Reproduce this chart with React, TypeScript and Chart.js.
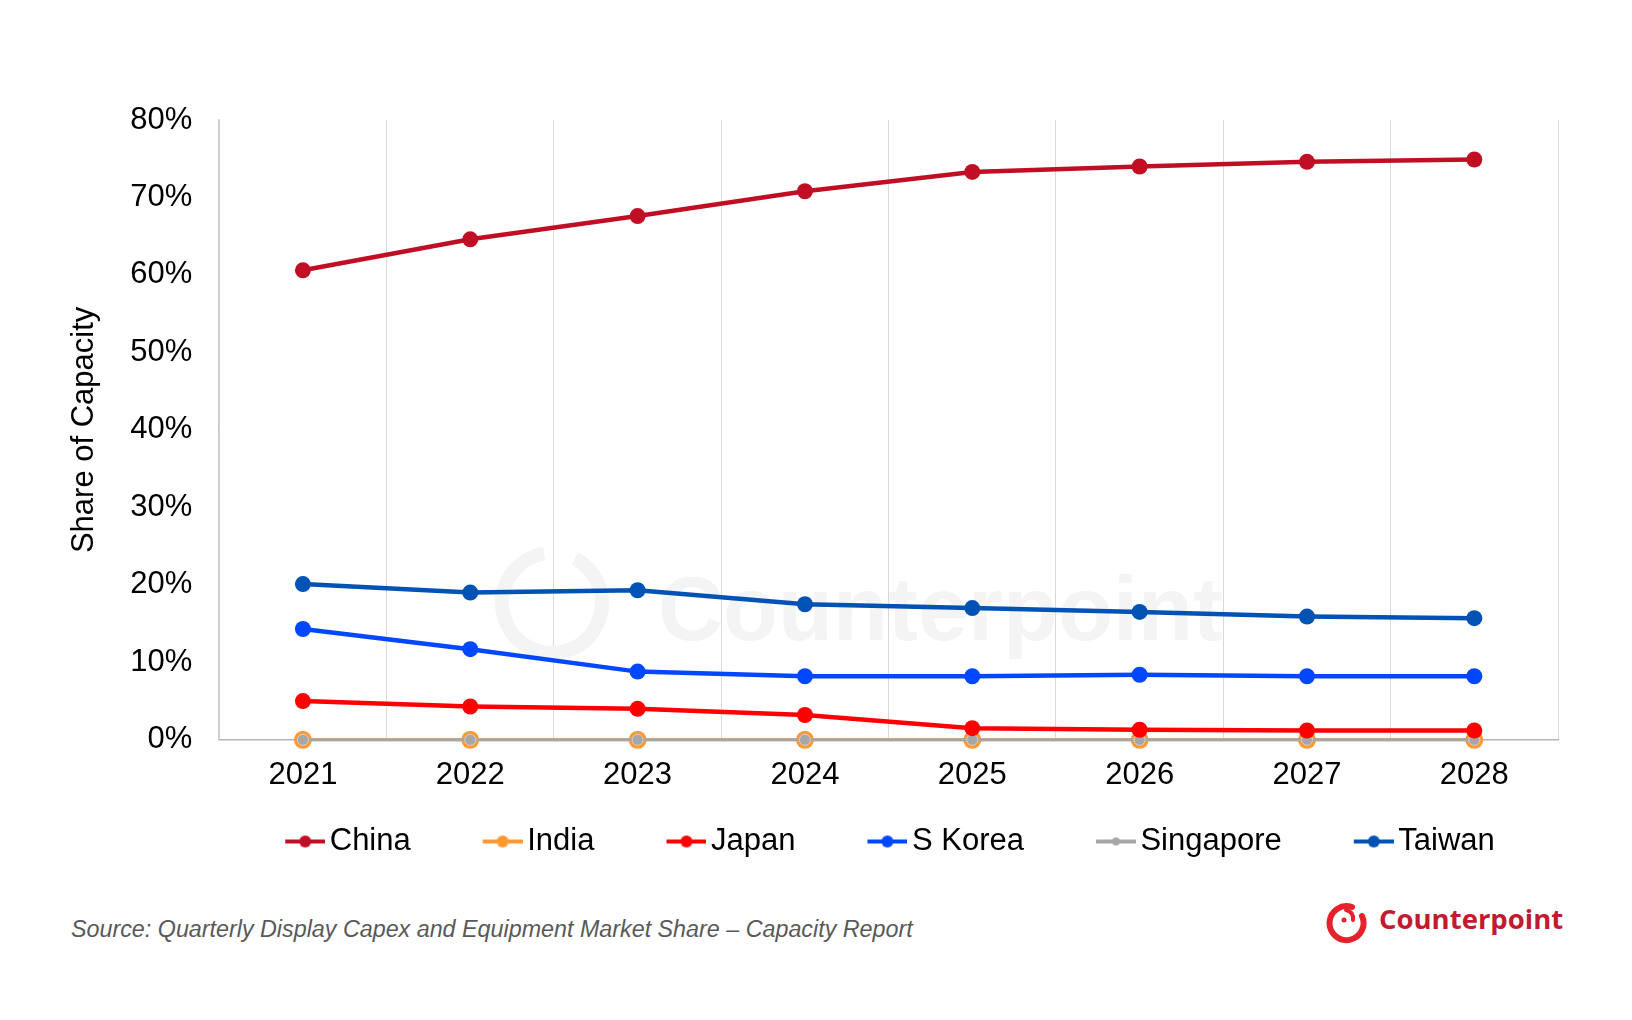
import React, { useEffect, useRef } from "react";
import { Chart, registerables } from "chart.js";

Chart.register(...registerables);

const years = ["2021", "2022", "2023", "2024", "2025", "2026", "2027", "2028"];

const china = [60.6, 64.6, 67.6, 70.8, 73.3, 74.0, 74.6, 74.9];
const india = [0, 0, 0, 0, 0, 0, 0, 0];
const japan = [5.0, 4.3, 4.0, 3.2, 1.5, 1.3, 1.2, 1.2];
const sKorea = [14.3, 11.7, 8.8, 8.2, 8.2, 8.4, 8.2, 8.2];
const singapore = [0, 0, 0, 0, 0, 0, 0, 0];
const taiwan = [20.1, 19.0, 19.3, 17.5, 17.0, 16.5, 15.9, 15.7];

const seriesNames = ["China", "India", "Japan", "S Korea", "Singapore", "Taiwan"];
const seriesColors = ["#C00F25", "#FF9933", "#FF0000", "#0047FF", "#A6A6A6", "#0052B4"];

const yTicks = [0, 10, 20, 30, 40, 50, 60, 70, 80];

const FONT = "'Liberation Sans', Arial, sans-serif";

// small line-with-dot icon for the legend, drawn into the right 40px
function legendIcon(color: string, dot: number) {
  const c = document.createElement("canvas");
  c.width = 91;
  c.height = 14;
  const ctx = c.getContext("2d")!;
  ctx.strokeStyle = color;
  ctx.lineWidth = 4;
  ctx.beginPath();
  ctx.moveTo(51, 7);
  ctx.lineTo(91, 7);
  ctx.stroke();
  ctx.fillStyle = color;
  ctx.beginPath();
  ctx.arc(71, 7, dot, 0, Math.PI * 2);
  ctx.fill();
  return c;
}

const watermark = {
  id: "watermark",
  beforeDatasetsDraw(chart: any) {
    const ctx = chart.ctx;
    ctx.save();
    ctx.strokeStyle = "#f4f4f4";
    ctx.lineWidth = 14;
    ctx.beginPath();
    ctx.arc(552, 603, 50, -Math.PI * 0.35, Math.PI * 1.45);
    ctx.stroke();
    ctx.fillStyle = "#f4f4f4";
    ctx.font = `bold 90px ${FONT}`;
    ctx.textBaseline = "alphabetic";
    ctx.fillText("Counterpoint", 658, 640);
    ctx.restore();
  },
};

// the legend sits right of the canvas centre and a little higher than the default stacking
const shiftLegend = {
  id: "shiftLegend",
  afterLayout(chart: any) {
    const lg = chart.legend;
    if (lg) {
      lg.left += 58;
      lg.right += 58;
      lg.top -= 17;
      lg.bottom -= 17;
    }
  },
};

const ChartComponent: React.FC = () => {
  const chartRef = useRef<HTMLCanvasElement | null>(null);
  const chartInstance = useRef<Chart | null>(null);

  useEffect(() => {
    if (chartInstance.current) {
      chartInstance.current.destroy();
    }
    const ctx = chartRef.current?.getContext("2d");
    if (!ctx) return;

    const values = [china, india, japan, sKorea, singapore, taiwan];
    const icons = seriesColors.map((c, i) => legendIcon(c, i === 4 ? 4 : 6));

    const datasets = seriesNames.map((name, i) => {
      const base: any = {
        label: name,
        data: values[i],
        borderColor: seriesColors[i],
        backgroundColor: seriesColors[i],
        borderWidth: 4.5,
        pointRadius: 8,
        pointHoverRadius: 8,
        pointBorderWidth: 0,
        clip: false,
        order: 0,
      };
      if (name === "India") {
        base.borderWidth = 3;
        base.pointRadius = 9;
        base.order = 2;
      }
      if (name === "Singapore") {
        base.borderWidth = 3;
        base.pointRadius = 5.5;
        base.pointBorderWidth = 1;
        base.pointBorderColor = "#d0d0d0";
        base.order = 1;
      }
      return base;
    });

    chartInstance.current = new Chart(ctx, {
      type: "line",
      data: { labels: years, datasets },
      options: {
        animation: false,
        responsive: false,
        maintainAspectRatio: false,
        font: { family: FONT },
        layout: { padding: { top: 120, left: 66, right: 74, bottom: 16 } },
        scales: {
          x: {
            offset: true,
            grid: { display: true, offset: true, color: "#d9d9d9", lineWidth: 1, drawTicks: false },
            border: { display: true, color: "#b4b4b4", width: 1.5 },
            ticks: { color: "#000", padding: 17, font: { family: FONT, size: 31 } },
          },
          y: {
            min: yTicks[0],
            max: yTicks[yTicks.length - 1],
            afterBuildTicks: (axis: any) => {
              axis.ticks = yTicks.map((v) => ({ value: v }));
            },
            grid: { display: false, drawTicks: false },
            border: { display: true, color: "#cccccc", width: 1.5 },
            ticks: {
              color: "#000",
              padding: 27,
              font: { family: FONT, size: 31 },
              callback: (v: any) => `${v}%`,
            },
            title: {
              display: true,
              text: "Share of Capacity",
              color: "#000",
              font: { family: FONT, size: 31 },
              padding: { top: 0, bottom: 0 },
            },
          },
        },
        plugins: {
          tooltip: { enabled: false },
          legend: {
            position: "bottom",
            labels: {
              color: "#000",
              font: { family: FONT, size: 31 },
              padding: 32,
              usePointStyle: true,
              pointStyleWidth: 69,
              sort: (a: any, b: any) => a.datasetIndex - b.datasetIndex,
              generateLabels: (chart: any) =>
                Chart.defaults.plugins.legend.labels
                  .generateLabels(chart)
                  .map((item: any) => ({ ...item, pointStyle: icons[item.datasetIndex] })),
            },
          },
        },
      },
      plugins: [watermark, shiftLegend],
    });

    return () => {
      if (chartInstance.current) {
        chartInstance.current.destroy();
        chartInstance.current = null;
      }
    };
  }, []);

  return <canvas ref={chartRef} width={1632} height={900} style={{ position: "absolute", left: 0, top: 0 }} />;
};

const App: React.FC = () => {
  return (
    <div style={{ position: "absolute", left: 0, top: 0, width: 1632, height: 1020, background: "#fff", overflow: "hidden" }}>
      <ChartComponent />
      <div
        style={{
          position: "absolute",
          left: 71,
          top: 918,
          fontFamily: FONT,
          fontStyle: "italic",
          fontSize: 23.3,
          lineHeight: "23px",
          color: "#595959",
          whiteSpace: "nowrap",
        }}
      >
        Source: Quarterly Display Capex and Equipment Market Share – Capacity Report
      </div>
      <svg style={{ position: "absolute", left: 1326, top: 902 }} width={42} height={42} viewBox="0 0 42 42">
        <path d="M 26 5 A 17 17 0 1 0 36 14" fill="none" stroke="#E5222B" strokeWidth={6} strokeLinecap="round" />
        <path d="M 20 8 Q 28 10 27 18" fill="none" stroke="#E5222B" strokeWidth={4} strokeLinecap="round" />
        <circle cx={18} cy={18} r={2.5} fill="#E5222B" />
      </svg>
      <div
        style={{
          position: "absolute",
          left: 1379,
          top: 905,
          fontFamily: "'Open Sans', sans-serif",
          fontWeight: 700,
          fontSize: 27.5,
          lineHeight: "28px",
          color: "#C21A2F",
          whiteSpace: "nowrap",
        }}
      >
        Counterpoint
      </div>
    </div>
  );
};

export default App;
